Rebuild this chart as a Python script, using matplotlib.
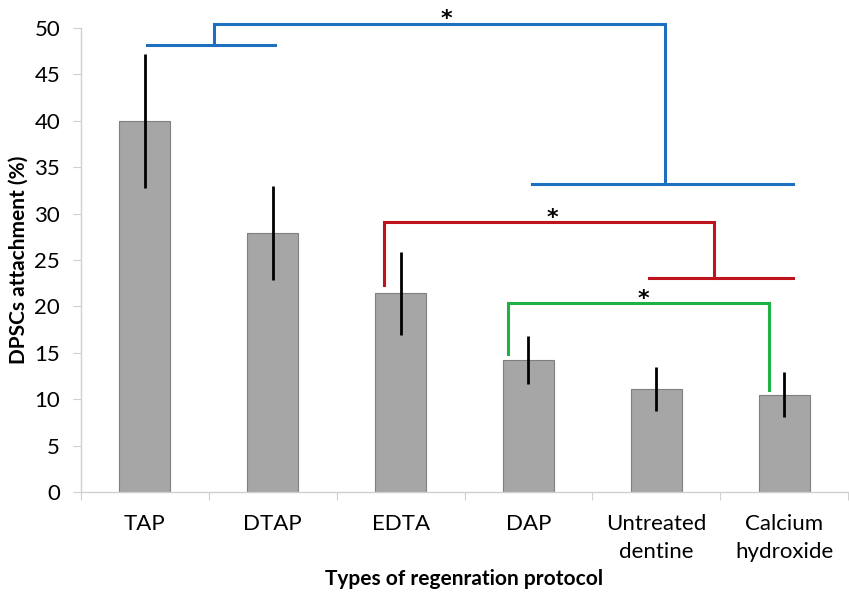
import matplotlib
matplotlib.use("Agg")
import matplotlib.pyplot as plt
import numpy as np

categories = ["TAP", "DTAP", "EDTA", "DAP", "Untreated\ndentine", "Calcium\nhydroxide"]
means = [40.0, 27.9, 21.4, 14.2, 11.1, 10.5]
errors = [7.2, 5.1, 4.5, 2.6, 2.4, 2.4]
y_ticks = [0, 5, 10, 15, 20, 25, 30, 35, 40, 45, 50]

# significance brackets (data coords): list of polyline segments
blue_lines = [
    ([0.02, 1.02], [48.2, 48.2]),
    ([0.54, 0.54, 4.07, 4.07], [48.2, 50.4, 50.4, 33.2]),
    ([3.03, 5.07], [33.2, 33.2]),
]
red_lines = [
    ([1.87, 1.87, 4.45, 4.45], [22.3, 29.1, 29.1, 23.1]),
    ([3.94, 5.07], [23.1, 23.1]),
]
green_lines = [
    ([2.84, 2.84, 4.88, 4.88], [14.9, 20.4, 20.4, 11.0]),
]
stars = [(2.36, 50.95), (3.19, 29.55), (3.90, 20.85)]

plt.rcParams['font.family'] = ['Lato', 'DejaVu Sans']

fig = plt.figure(figsize=(8.49, 5.96), dpi=100)
ax = fig.add_axes([81/849, 1-492/596, (848-81)/849, (492-28)/596])

x = np.arange(len(categories))
ax.bar(x, means, width=0.4, color="#a6a6a6", edgecolor="#7f7f7f", linewidth=0.8, zorder=2)
ax.errorbar(x, means, yerr=errors, fmt="none", ecolor="black", elinewidth=2, capsize=0, zorder=3)

for xs, ys in blue_lines:
    ax.plot(xs, ys, color="#1f6fbf", lw=2.2, clip_on=False, zorder=4, solid_joinstyle="miter")
for xs, ys in red_lines:
    ax.plot(xs, ys, color="#c0141c", lw=2.2, clip_on=False, zorder=4, solid_joinstyle="miter")
for xs, ys in green_lines:
    ax.plot(xs, ys, color="#1db342", lw=2.2, clip_on=False, zorder=4, solid_joinstyle="miter")
for sx, sy in stars:
    ax.text(sx, sy, "*", ha="center", va="center", fontsize=16, fontweight="bold",
            family=["DejaVu Sans"], clip_on=False)

ax.set_xlim(-0.5, len(categories) - 0.5)
ax.set_ylim(0, 50)
ax.set_yticks(y_ticks)
ax.set_yticklabels([str(t) for t in y_ticks], fontsize=16)
ax.set_xticks(np.arange(-0.5, len(categories) + 0.5, 1.0))
ax.set_xticklabels([])
ax.set_xticks(x, minor=True)
ax.set_xticklabels(categories, minor=True, fontsize=16, linespacing=1.5)
ax.tick_params(axis="x", which="minor", length=0, pad=16)
ax.tick_params(axis="x", which="major", length=6, color="#d0d0d0", direction="out")
ax.tick_params(axis="y", length=6, color="#d0d0d0", direction="out", pad=9)

for s in ["top", "right"]:
    ax.spines[s].set_visible(False)
for s in ["left", "bottom"]:
    ax.spines[s].set_color("#d0d0d0")
    ax.spines[s].set_linewidth(1)

ax.set_ylabel("DPSCs attachment (%)", fontsize=15, fontweight="bold", labelpad=4)
ax.set_xlabel("Types of regenration protocol", fontsize=15, fontweight="bold", labelpad=5)

fig.savefig("out.png", dpi=100)
